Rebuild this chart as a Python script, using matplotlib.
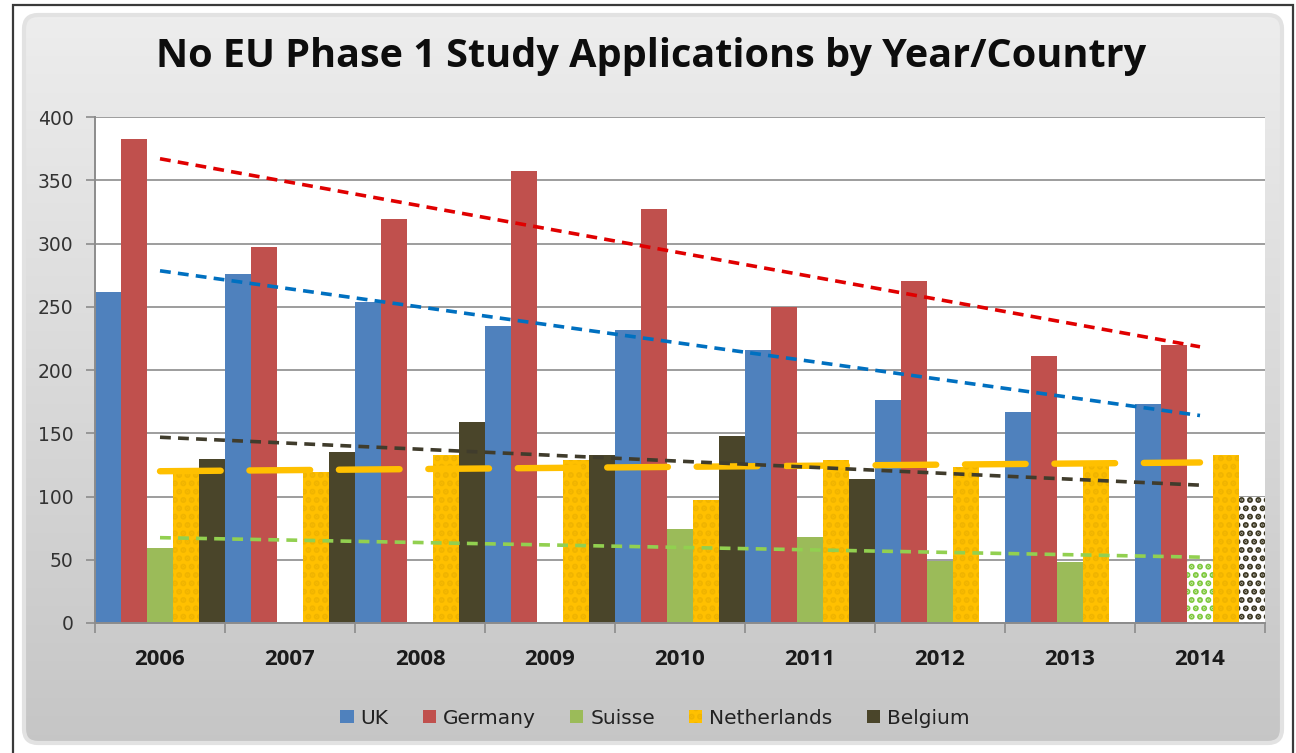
import numpy as np
import matplotlib
matplotlib.use("Agg")
import matplotlib.pyplot as plt
from matplotlib.patches import FancyBboxPatch, Patch

# ---------------- data ----------------
years = ['2006', '2007', '2008', '2009', '2010', '2011', '2012', '2013', '2014']
series_names = ['UK', 'Germany', 'Suisse', 'Netherlands', 'Belgium']
uk = [262, 276, 254, 235, 232, 216, 176, 167, 173]
germany = [383, 297, 319, 357, 327, 250, 270, 211, 220]
suisse = [59, np.nan, np.nan, np.nan, 74, 68, 49, 48, 49]
netherlands = [121, 119, 133, 129, 97, 129, 123, 127, 133]
belgium = [130, 135, 159, 133, 148, 114, np.nan, np.nan, 100]
y_ticks = [0, 50, 100, 150, 200, 250, 300, 350, 400]
title = 'No EU Phase 1 Study Applications by Year/Country'

bar_colors = ['#4F81BD', '#C0504D', '#9BBB59', '#FFC000', '#4A452A']
trend_colors = ['#0070C0', '#E00000', '#92D050', '#FFC000', '#403C2C']

plt.rcParams['hatch.linewidth'] = 3.0

W, H = 1296, 753
fig = plt.figure(figsize=(W / 100, H / 100), dpi=100)
fig.patch.set_facecolor('white')

# ---------------- background ----------------
bg = fig.add_axes([0, 0, 1, 1], zorder=-10)
bg.set_xlim(0, W)
bg.set_ylim(H, 0)
bg.axis('off')
grad = np.linspace(0, 1, 256).reshape(-1, 1)
c_top = np.array([0.93, 0.93, 0.93])
c_bot = np.array([0.775, 0.775, 0.775])
img = c_top[None, None, :] * (1 - grad[:, :, None]) + c_bot[None, None, :] * grad[:, :, None]
box = FancyBboxPatch((24, 15), 1258, 728, boxstyle='round,pad=0,rounding_size=14',
                     facecolor='none', edgecolor='none', transform=bg.transData)
bg.add_patch(box)
im = bg.imshow(img, extent=[24, 1282, 743, 15], aspect='auto', interpolation='bilinear')
im.set_clip_path(box)
shadow = FancyBboxPatch((24, 15), 1258, 728, boxstyle='round,pad=0,rounding_size=14',
                        facecolor='none', edgecolor='#e2e2e2', linewidth=3,
                        transform=bg.transData)
bg.add_patch(shadow)
bg.plot([13, 13, 1293, 1293], [H + 5, 5, 5, H + 5], color='#3a3a3a', lw=1.6,
        solid_joinstyle='miter')

# ---------------- main axes ----------------
ax = fig.add_axes([95 / W, 1 - 623 / H, (1265 - 95) / W, (623 - 117) / H])
ax.set_facecolor('white')

x = np.arange(len(years))
bw = 0.2
data = [uk, germany, suisse, netherlands, belgium]
for k, (vals, col) in enumerate(zip(data, bar_colors)):
    pos = x - 0.5 + bw / 2 + k * bw
    vals = np.array(vals, dtype=float)
    if k == 3:
        ax.bar(pos, vals, width=bw, color=col, edgecolor='#F0B400',
               linewidth=0, hatch='..', zorder=2)
    elif k in (2, 4):
        ax.bar(pos[:-1], vals[:-1], width=bw, color=col, linewidth=0, zorder=2)
        ax.bar(pos[-1:], vals[-1:], width=bw, color='white',
               edgecolor=('#7DC83C' if k == 2 else '#3A3620'),
               linewidth=0, hatch='..', zorder=2)
    else:
        ax.bar(pos, vals, width=bw, color=col, linewidth=0, zorder=2)

# trendlines (linear fits)
for k, (vals, col) in enumerate(zip(data, trend_colors)):
    vals = np.array(vals, dtype=float)
    m = ~np.isnan(vals)
    p = np.polyfit(x[m], vals[m], 1)
    xx = np.array([x[0], x[-1]])
    if k == 3:
        ax.plot(xx, np.polyval(p, xx), color=col, lw=4.6, dashes=(9.5, 4.5),
                dash_capstyle='round', zorder=4)
    else:
        ax.plot(xx, np.polyval(p, xx), color=col, lw=2.6, dashes=(3.0, 2.0),
                dash_capstyle='butt', zorder=5)

ax.set_xlim(-0.5, len(years) - 0.5)
ax.set_ylim(0, 400)
ax.set_yticks(y_ticks)
ax.set_yticklabels([str(v) for v in y_ticks])
ax.yaxis.grid(True, color='#8c8c8c', linewidth=1.2, zorder=0)
ax.set_axisbelow(True)
ax.set_xticks(x)
ax.set_xticklabels(years)
ax.set_xticks(np.arange(-0.5, len(years)), minor=True)
ax.tick_params(axis='x', which='major', length=0, pad=19, labelsize=16,
               labelcolor='#1a1a1a')
ax.tick_params(axis='x', which='minor', length=7, width=1.2, color='#8c8c8c',
               direction='out')
ax.tick_params(axis='y', which='major', length=6.5, width=1.2, color='#8c8c8c',
               direction='out', pad=9, labelsize=13.5, labelcolor='#333333')
for lab in ax.get_xticklabels():
    lab.set_fontfamily(['Open Sans', 'DejaVu Sans'])
    lab.set_fontweight('bold')
for s in ('top', 'right'):
    ax.spines[s].set_visible(False)
for s in ('left', 'bottom'):
    ax.spines[s].set_color('#8c8c8c')
    ax.spines[s].set_linewidth(1.4)

# title
fig.text(651 / W, 1 - 57 / H, title, ha='center', va='center', fontsize=28.5,
         fontweight='bold', family=['Open Sans', 'DejaVu Sans'],
         color='#0d0d0d')

# legend
handles = []
for k, (name, col) in enumerate(zip(series_names, bar_colors)):
    if k == 3:
        handles.append(Patch(facecolor=col, edgecolor='#F0B400', linewidth=0, hatch='..',
                             label=name))
    else:
        handles.append(Patch(facecolor=col, linewidth=0, label=name))
leg = fig.legend(handles=handles, loc='center', bbox_to_anchor=(655 / W, 1 - 718 / H),
                 ncol=5, frameon=False, fontsize=14.5, handlelength=0.65,
                 handleheight=0.65, handletextpad=0.35, columnspacing=1.7)
for t in leg.get_texts():
    t.set_color('#222222')

fig.savefig('out.png', dpi=100, facecolor=fig.get_facecolor())
